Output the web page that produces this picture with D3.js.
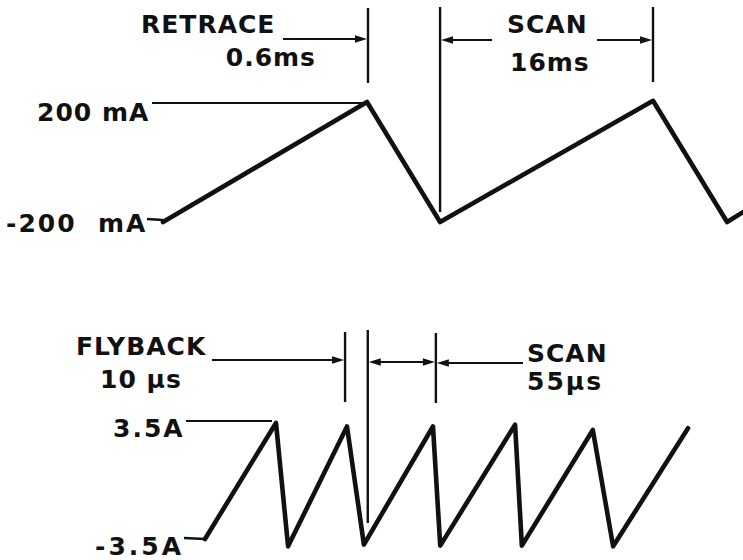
<!DOCTYPE html>
<html>
<head>
<meta charset="utf-8">
<script src="https://cdn.jsdelivr.net/npm/d3@7"></script>
<style>
  html, body { margin: 0; padding: 0; background: #fff; }
  svg { display: block; }
  text { font-family: "DejaVu Sans", sans-serif; font-weight: bold; fill: #111; white-space: pre; }
</style>
</head>
<body>
<svg id="chart" width="743" height="560"></svg>
<script>
// ---------- DATA ----------
// Vertical deflection (top): schematic time units vs current in mA
const verticalTime    = [0, 12.31, 16.72, 29.57, 34.04, 35];
const verticalCurrent = [-200, 200, -200, 204, -200, -167];
const verticalTicks   = [200, -200];
const verticalTickLabels = ["200 mA", "-200  mA"];

// Horizontal deflection (bottom): schematic time units vs current in A
const horizontalTime    = [0, 14.7, 17.2, 29.4, 32.9, 47.2, 48.7, 64.2, 65.6, 80.3, 84.5, 100];
const horizontalCurrent = [-3.1, 3.5, -3.52, 3.3, -3.42, 3.3, -3.48, 3.4, -3.48, 3.1, -3.52, 3.2];
const horizontalTicks   = [3.5, -3.5];
const horizontalTickLabels = ["3.5A", "-3.5A"];

// Interval annotations
const topIntervals = ["RETRACE", "0.6ms", "SCAN", "16ms"];
const bottomIntervals = ["FLYBACK", "10 μs", "SCAN", "55μs"];

// ---------- SETUP ----------
const svg = d3.select("#chart");
svg.append("rect").attr("width", 743).attr("height", 560).attr("fill", "#fff");
const ink = "#111";

const xTop = d3.scaleLinear().domain([0, 35]).range([163, 743]);
const yTop = d3.scaleLinear().domain([-200, 200]).range([222, 102]);
const xBot = d3.scaleLinear().domain([0, 100]).range([205, 688]);
const yBot = d3.scaleLinear().domain([-3.5, 3.5]).range([546, 423]);

const line = (xs, ys) => d3.line().x(d => xs(d[0])).y(d => ys(d[1]));

function seg(x1, y1, x2, y2, w) {
  svg.append("line").attr("x1", x1).attr("y1", y1).attr("x2", x2).attr("y2", y2)
    .attr("stroke", ink).attr("stroke-width", w || 2.2).attr("stroke-linecap", "butt");
}
function arrowHead(x, y, dir) { // dir: +1 points right, -1 points left
  const L = 12, W = 3.8;
  svg.append("path")
    .attr("d", `M${x},${y} L${x - dir * L},${y - W} L${x - dir * L},${y + W} Z`)
    .attr("fill", ink);
}
function label(txt, x, y, anchor, ls) {
  return svg.append("text").attr("x", x).attr("y", y)
    .attr("text-anchor", anchor || "start")
    .attr("font-size", 25).attr("letter-spacing", ls == null ? 1 : ls).text(txt);
}

// ---------- WAVEFORMS ----------
svg.append("path")
  .datum(d3.zip(verticalTime, verticalCurrent))
  .attr("d", line(xTop, yTop))
  .attr("fill", "none").attr("stroke", ink).attr("stroke-width", 4.6)
  .attr("stroke-linejoin", "round").attr("stroke-linecap", "round");

svg.append("path")
  .datum(d3.zip(horizontalTime, horizontalCurrent))
  .attr("d", line(xBot, yBot))
  .attr("fill", "none").attr("stroke", ink).attr("stroke-width", 4.6)
  .attr("stroke-linejoin", "round").attr("stroke-linecap", "round");

// ---------- LEVEL LABELS ----------
// top
label(verticalTickLabels[0], 37, 121);
seg(152, yTop(verticalTicks[0]) + 1, xTop(verticalTime[1]) - 4, yTop(verticalTicks[0]) + 1, 1.8);
label(verticalTickLabels[1], 6, 232, "start", 2);
seg(147, 219, xTop(verticalTime[0]), yTop(verticalTicks[1]) - 2, 2.4);
// bottom
label(horizontalTickLabels[0], 113, 437, "start", 2);
seg(186, yBot(horizontalTicks[0]) - 2, xBot(horizontalTime[1]) - 4, yBot(horizontalTicks[0]) - 2, 1.8);
label(horizontalTickLabels[1], 95, 555, "start", 3);
seg(184, 538, xBot(horizontalTime[0]), yBot(horizontalCurrent[0]), 2.4);

// ---------- TOP INTERVAL ANNOTATIONS ----------
const tRetEnd = xTop(verticalTime[1]) + 1;   // retrace begins at first peak
const tScanStart = xTop(verticalTime[2]);     // scan starts at valley
const tScanEnd = xTop(verticalTime[3]);
label(topIntervals[0], 141, 33);
label(topIntervals[1], 316, 66, "end");
seg(283, 39, tRetEnd - 8, 39);
arrowHead(tRetEnd - 1, 39, 1);
seg(tRetEnd, 8, tRetEnd, 83, 2.4);

seg(tScanStart, 7, tScanStart, 212, 2.4);
arrowHead(tScanStart + 1, 40, -1);
seg(tScanStart + 8, 40, 492, 40);
label(topIntervals[2], 507, 33);
label(topIntervals[3], 510, 71);
seg(597, 40, tScanEnd - 8, 40);
arrowHead(tScanEnd - 1, 40, 1);
seg(tScanEnd, 7, tScanEnd, 82, 2.4);

// ---------- BOTTOM INTERVAL ANNOTATIONS ----------
const bFlyStart = xBot(29.0);
const bFlyEnd = xBot(33.7);
const bScanEnd = xBot(47.8);
label(bottomIntervals[0], 76, 355);
label(bottomIntervals[1], 100, 388);
seg(212, 360, bFlyStart - 8, 360);
arrowHead(bFlyStart - 1, 360, 1);
seg(bFlyStart, 332, bFlyStart, 402, 2.4);

seg(bFlyEnd, 330, bFlyEnd, 523, 2.4);
arrowHead(bFlyEnd + 1, 362, -1);
seg(bFlyEnd + 8, 362, bScanEnd - 8, 362);
arrowHead(bScanEnd - 1, 362, 1);
seg(bScanEnd, 333, bScanEnd, 403, 2.4);
arrowHead(bScanEnd + 1, 363, -1);
seg(bScanEnd + 8, 363, 523, 363);
label(bottomIntervals[2], 527, 362);
label(bottomIntervals[3], 527, 390, "start", 2);
</script>
</body>
</html>
